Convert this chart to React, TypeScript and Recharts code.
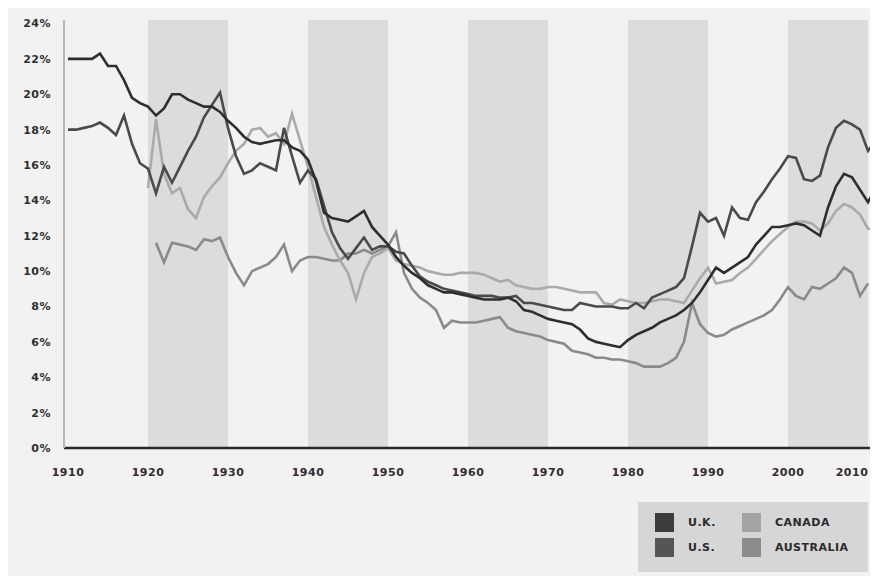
import React from 'react';
import { LineChart, Line, XAxis, YAxis, ReferenceArea } from 'recharts';

// top 1% income share (%), one value per year from the start year
const UK_START = 1910;
const ukShare = [
  22.0, 22.0, 22.0, 22.0, 22.3, 21.6, 21.6, 20.8, 19.8, 19.5,
  19.3, 18.8, 19.2, 20.0, 20.0, 19.7, 19.5, 19.3, 19.3, 19.0,
  18.5, 18.1, 17.6, 17.3, 17.2, 17.3, 17.4, 17.4, 17.0, 16.8,
  16.3, 15.1, 13.3, 13.0, 12.9, 12.8, 13.1, 13.4, 12.5, 12.0,
  11.5, 10.8, 10.3, 9.9, 9.6, 9.2, 9.0, 8.8, 8.8, 8.7,
  8.6, 8.5, 8.4, 8.4, 8.4, 8.5, 8.3, 7.8, 7.7, 7.5,
  7.3, 7.2, 7.1, 7.0, 6.7, 6.2, 6.0, 5.9, 5.8, 5.7,
  6.1, 6.4, 6.6, 6.8, 7.1, 7.3, 7.5, 7.8, 8.2, 8.8,
  9.5, 10.2, 9.9, 10.2, 10.5, 10.8, 11.5, 12.0, 12.5, 12.5,
  12.6, 12.7, 12.6, 12.3, 12.0, 13.6, 14.8, 15.5, 15.3, 14.6,
  13.9, 14.7,
];

const US_START = 1910;
const usShare = [
  18.0, 18.0, 18.1, 18.2, 18.4, 18.1, 17.7, 18.8, 17.2, 16.1,
  15.8, 14.4, 15.9, 15.0, 15.9, 16.8, 17.6, 18.7, 19.4, 20.1,
  18.1, 16.5, 15.5, 15.7, 16.1, 15.9, 15.7, 18.1, 16.5, 15.0,
  15.7, 15.2, 13.7, 12.2, 11.3, 10.7, 11.3, 11.9, 11.2, 11.4,
  11.4, 11.1, 11.0, 10.3, 9.7, 9.4, 9.2, 9.0, 8.9, 8.8,
  8.7, 8.6, 8.6, 8.6, 8.5, 8.5, 8.6, 8.2, 8.2, 8.1,
  8.0, 7.9, 7.8, 7.8, 8.2, 8.1, 8.0, 8.0, 8.0, 7.9,
  7.9, 8.2, 7.9, 8.5, 8.7, 8.9, 9.1, 9.6, 11.4, 13.3,
  12.8, 13.0, 12.0, 13.6, 13.0, 12.9, 13.9, 14.5, 15.2, 15.8,
  16.5, 16.4, 15.2, 15.1, 15.4, 17.0, 18.1, 18.5, 18.3, 18.0,
  16.8, 17.4,
];

const CANADA_START = 1920;
const canadaShare = [
  14.7, 18.6, 15.5, 14.4, 14.7, 13.5, 13.0, 14.2, 14.8, 15.3,
  16.1, 16.8, 17.2, 18.0, 18.1, 17.6, 17.8, 17.2, 18.9, 17.4,
  15.9, 14.2, 12.5, 11.5, 10.6, 9.9, 8.4, 9.9, 10.8, 11.0,
  11.3, 10.6, 10.4, 10.3, 10.2, 10.0, 9.9, 9.8, 9.8, 9.9,
  9.9, 9.9, 9.8, 9.6, 9.4, 9.5, 9.2, 9.1, 9.0, 9.0,
  9.1, 9.1, 9.0, 8.9, 8.8, 8.8, 8.8, 8.2, 8.1, 8.4,
  8.3, 8.2, 8.2, 8.3, 8.4, 8.4, 8.3, 8.2, 8.9, 9.6,
  10.2, 9.3, 9.4, 9.5, 9.9, 10.2, 10.7, 11.2, 11.7, 12.1,
  12.5, 12.8, 12.8, 12.7, 12.3, 12.7, 13.4, 13.8, 13.6, 13.2,
  12.4, 12.4,
];

const AUSTRALIA_START = 1921;
const australiaShare = [
  11.6, 10.5, 11.6, 11.5, 11.4, 11.2, 11.8, 11.7, 11.9,
  10.8, 9.9, 9.2, 10.0, 10.2, 10.4, 10.8, 11.5, 10.0, 10.6,
  10.8, 10.8, 10.7, 10.6, 10.6, 11.0, 11.0, 11.2, 11.0, 11.2,
  11.4, 12.2, 9.9, 9.0, 8.5, 8.2, 7.8, 6.8, 7.2, 7.1,
  7.1, 7.1, 7.2, 7.3, 7.4, 6.8, 6.6, 6.5, 6.4, 6.3,
  6.1, 6.0, 5.9, 5.5, 5.4, 5.3, 5.1, 5.1, 5.0, 5.0,
  4.9, 4.8, 4.6, 4.6, 4.6, 4.8, 5.1, 6.0, 8.2, 7.0,
  6.5, 6.3, 6.4, 6.7, 6.9, 7.1, 7.3, 7.5, 7.8, 8.4,
  9.1, 8.6, 8.4, 9.1, 9.0, 9.3, 9.6, 10.2, 9.9, 8.6,
  9.3,
];

const decadeTicks = [1910, 1920, 1930, 1940, 1950, 1960, 1970, 1980, 1990, 2000, 2010];
const percentTicks = [0, 2, 4, 6, 8, 10, 12, 14, 16, 18, 20, 22, 24];
const shadedDecades = [1920, 1940, 1960, 1980, 2000];

const series = [
  { key: 'australia', name: 'AUSTRALIA', start: AUSTRALIA_START, values: australiaShare, color: '#8a8a8a', swatch: '#8c8c8c' },
  { key: 'canada', name: 'CANADA', start: CANADA_START, values: canadaShare, color: '#aaaaaa', swatch: '#a4a4a4' },
  { key: 'us', name: 'U.S.', start: US_START, values: usShare, color: '#4a4a4a', swatch: '#555555' },
  { key: 'uk', name: 'U.K.', start: UK_START, values: ukShare, color: '#2e2e2e', swatch: '#3c3c3c' },
];

const rows: Record<string, number>[] = [];
for (let year = 1910; year <= 2011; year++) {
  const row: Record<string, number> = { year };
  series.forEach(s => {
    const v = s.values[year - s.start];
    if (v !== undefined && year >= s.start) row[s.key] = v;
  });
  rows.push(row);
}

const font = '"DejaVu Sans", sans-serif';
const tickStyle = { fill: '#2f2f2f', fontSize: 11, fontFamily: font, fontWeight: 700, letterSpacing: 0.5 };

// year labels; the last one is pulled in so it stays inside the frame
const YearTick = (props: any) => {
  const { x, y, payload } = props;
  const shift = payload.value === 2010 ? -10 : 0;
  return (
    <text x={x + shift} y={y} dy="0.71em" textAnchor="middle" {...tickStyle}>
      {payload.value}
    </text>
  );
};

const LegendItem = ({ color, label }: { color: string; label: string }) => (
  <div style={{ display: 'flex', alignItems: 'center', height: 20 }}>
    <div style={{ width: 19, height: 19, background: color, marginRight: 14 }} />
    <span>{label}</span>
  </div>
);

const App = () => {
  const byKey = (k: string) => series.find(s => s.key === k)!;
  return (
    <div style={{ position: 'relative', width: 870, height: 568, background: '#f2f2f2' }}>
      <LineChart width={870} height={568} data={rows} margin={{ top: 12, right: 2, bottom: 98, left: 0 }}>
        {shadedDecades.map(d => (
          <ReferenceArea key={d} x1={d} x2={d + 10} y1={0} y2={24.2} fill="#dcdcdc" fillOpacity={1} stroke="none" ifOverflow="visible" />
        ))}
        <XAxis
          type="number"
          dataKey="year"
          domain={[1909.5, 2011]}
          ticks={decadeTicks}
          allowDataOverflow
          height={30}
          tickLine={false}
          tickMargin={14}
          axisLine={{ stroke: '#2a2a2a', strokeWidth: 2.5 }}
          tick={<YearTick />}
        />
        <YAxis
          type="number"
          domain={[0, 24.2]}
          ticks={percentTicks}
          allowDataOverflow
          width={56}
          tickLine={false}
          tickMargin={7}
          axisLine={{ stroke: '#b8b8b8', strokeWidth: 2 }}
          tick={tickStyle}
          tickFormatter={(v: number) => `${v}%`}
        />
        {series.map(s => (
          <Line
            key={s.key}
            type="linear"
            dataKey={s.key}
            name={s.name}
            stroke={s.color}
            strokeWidth={2.6}
            dot={false}
            activeDot={false}
            isAnimationActive={false}
          />
        ))}
      </LineChart>
      <div
        style={{
          position: 'absolute', left: 630, top: 494, width: 230, height: 70, background: '#d6d6d6',
          fontFamily: font, fontSize: 11, fontWeight: 700, letterSpacing: 0.5, color: '#2a2a2a',
          display: 'grid', gridTemplateColumns: '87px 120px', gridAutoRows: '20px', rowGap: 5,
          alignContent: 'start', padding: '10px 0 0 17px', boxSizing: 'border-box',
        }}
      >
        <LegendItem color={byKey('uk').swatch} label="U.K." />
        <LegendItem color={byKey('canada').swatch} label="CANADA" />
        <LegendItem color={byKey('us').swatch} label="U.S." />
        <LegendItem color={byKey('australia').swatch} label="AUSTRALIA" />
      </div>
    </div>
  );
};

export default App;
